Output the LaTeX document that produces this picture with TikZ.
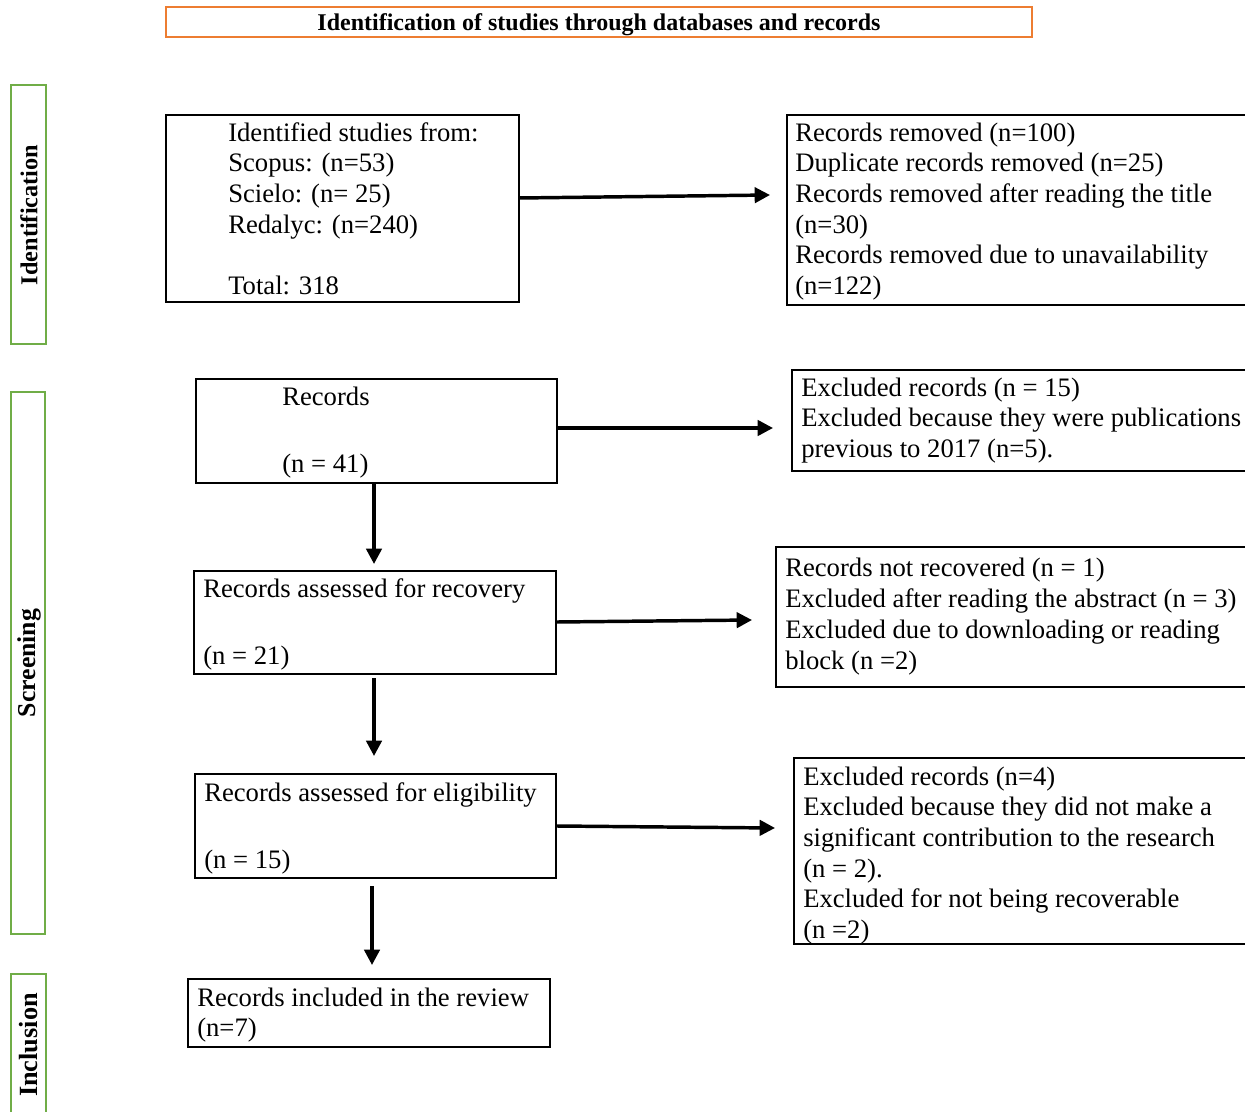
\documentclass[tikz,border=0pt]{standalone}
\usepackage{fontspec}
\setmainfont{Liberation Serif}
\usetikzlibrary{arrows.meta,fit}
\definecolor{hdorange}{HTML}{ED7D31}
\definecolor{stgreen}{HTML}{70AD47}
\begin{document}
\begin{tikzpicture}[x=0.75pt,y=-0.75pt,
  box/.style={draw=black,line width=1.9pt,inner sep=0pt,rectangle},
  gbox/.style={draw=stgreen,line width=2.2pt,inner sep=0pt,rectangle},
  obox/.style={draw=hdorange,line width=1.9pt,inner sep=0pt,rectangle},
  txt/.style={anchor=north west,inner sep=0pt,align=left,font=\fontsize{20}{#1}\selectfont},
  txt/.default=23,
  side/.style={rotate=90,inner sep=0pt,font=\bfseries\fontsize{#1}{20}\selectfont},
  arr/.style={line width=2.6pt,-{Triangle[length=11.5pt,width=11.5pt]}}]
\path[use as bounding box,clip] (0,0) rectangle (1245,1112);

% header
\node[obox,fit={(166,7) (1032,37)}] (hbox) {};
\node[inner sep=0pt,font=\bfseries\fontsize{18}{20}\selectfont] (htext) at (599,24.5) {Identification of studies through databases and records};

% stage labels
\node[gbox,fit={(11,85) (46,344)}] (gid) {};
\node[side=18.2] (lid) at (29,215) {Identification};
\node[gbox,fit={(11,392) (45,934)}] (gsc) {};
\node[side=19.3] (lsc) at (29,663) {Screening};
\node[gbox,fit={(11,974) (46,1130)}] (gin) {};
\node[side=19.7] (lin) at (29,1045) {Inclusion};

% left column boxes
\node[box,fit={(166,115) (519,302)}] (b1) {};
\node[txt] (t1) at (228,119.5) {\strut Identified studies from:\\\strut Scopus: (n=53)\\\strut Scielo: (n= 25)\\\strut Redalyc: (n=240)\\\strut\\\strut Total: 318};

\node[box,fit={(196,379) (557,483)}] (b2) {};
\node[txt=25.1] (t2) at (282,381.6) {\strut Records\\\strut\\\strut (n = 41)};

\node[box,fit={(194,571) (556,674)}] (b3) {};
\node[txt=25.1] (t3) at (203,573.6) {\strut Records assessed for recovery\\\strut\\\strut (n = 21)};

\node[box,fit={(195,774) (556,878)}] (b4) {};
\node[txt=25.1] (t4) at (204,777.6) {\strut Records assessed for eligibility\\\strut\\\strut (n = 15)};

\node[box,fit={(188,979) (550,1047)}] (b5) {};
\node[txt] (t5) at (197,984.5) {\strut Records included in the review\\\strut (n=7)};

% right column boxes
\node[box,fit={(787,115) (1262,305)}] (r1) {};
\node[txt] (rt1) at (795,119.5) {\strut Records removed (n=100)\\\strut Duplicate records removed (n=25)\\\strut Records removed after reading the title\\\strut (n=30)\\\strut Records removed due to unavailability\\\strut (n=122)};

\node[box,fit={(792,370) (1262,471)}] (r2) {};
\node[txt] (rt2) at (801,374.5) {\strut Excluded records (n = 15)\\\strut Excluded because they were publications\\\strut previous to 2017 (n=5).};

\node[box,fit={(776,547) (1262,687)}] (r3) {};
\node[txt=23.25] (rt3) at (785,554.5) {\strut Records not recovered (n = 1)\\\strut Excluded after reading the abstract (n = 3)\\\strut Excluded due to downloading or reading\\\strut block (n =2)};

\node[box,fit={(794,758) (1262,944)}] (r4) {};
\node[txt] (rt4) at (803,763.5) {\strut Excluded records (n=4)\\\strut Excluded because they did not make a\\\strut significant contribution to the research\\\strut (n = 2).\\\strut Excluded for not being recoverable\\\strut (n =2)};

% arrow end points
\coordinate (a1s) at (519,198);
\coordinate (a1e) at (770,195);
\coordinate (a2s) at (557,428);
\coordinate (a2e) at (773,428);
\coordinate (a3s) at (557,622);
\coordinate (a3e) at (752,620);
\coordinate (a4s) at (557,826);
\coordinate (a4e) at (775,828);
\coordinate (d1s) at (374,483);
\coordinate (d1e) at (374,564);
\coordinate (d2s) at (374,678);
\coordinate (d2e) at (374,756);
\coordinate (d3s) at (372,886);
\coordinate (d3e) at (372,965);

\draw[arr] (a1s) -- (a1e);
\draw[arr] (a2s) -- (a2e);
\draw[arr] (a3s) -- (a3e);
\draw[arr] (a4s) -- (a4e);
\draw[arr] (d1s) -- (d1e);
\draw[arr] (d2s) -- (d2e);
\draw[arr] (d3s) -- (d3e);
\end{tikzpicture}
\end{document}
